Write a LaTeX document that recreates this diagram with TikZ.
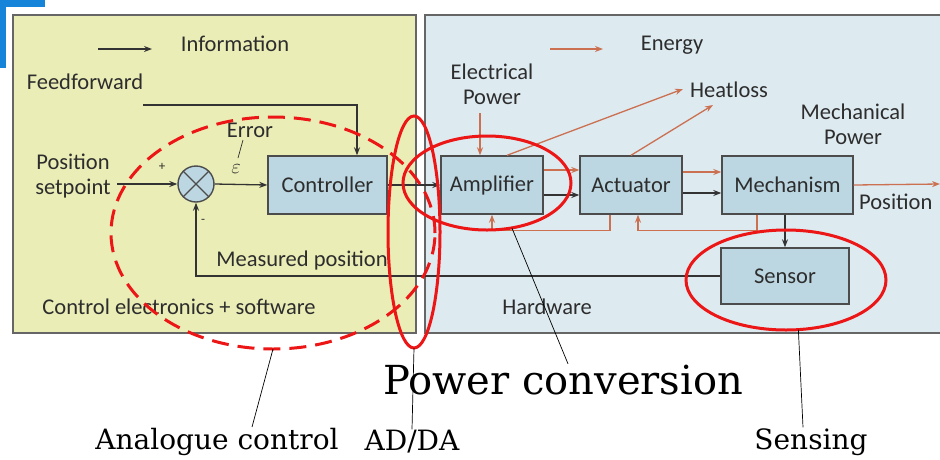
\documentclass[tikz,border=0pt]{standalone}
\usepackage{fontspec}
\setsansfont{Carlito}
\newfontfamily\labelserif{DejaVu Serif}
\usetikzlibrary{arrows.meta,positioning,shapes.geometric}
\definecolor{panelyellow}{RGB}{234,237,182}
\definecolor{panelblue}{RGB}{221,234,240}
\definecolor{boxblue}{RGB}{188,215,226}
\definecolor{energyline}{RGB}{204,112,82}
\definecolor{textgray}{RGB}{45,45,45}
\definecolor{markred}{RGB}{236,22,22}
\definecolor{cornerblue}{RGB}{22,132,216}

\begin{document}
\begin{tikzpicture}[x=1pt,y=-1pt]
\tikzset{
  panel/.style={draw=black!60,line width=1.4pt},
  blocknode/.style={rectangle,draw=black!70,fill=boxblue,line width=1.4pt,minimum height=58pt,inner sep=0pt,font=\sffamily\fontsize{22.5}{25}\selectfont,text=textgray},
  sumnode/.style={circle,draw=black!70,fill=boxblue,line width=1.4pt,minimum size=36pt,inner sep=0pt},
  labelnode/.style={font=\sffamily\fontsize{22.5}{25}\selectfont,text=textgray,align=center,inner sep=1pt},
  signnode/.style={font=\sffamily\fontsize{13}{14}\selectfont,text=textgray,inner sep=0pt},
  infoline/.style={draw=black!80,line width=1.3pt},
  infoarrow/.style={infoline,-{Stealth[length=8pt,width=6pt]}},
  energyline/.style={draw=energyline,line width=1.3pt},
  energyarrow/.style={energyline,-{Stealth[length=8pt,width=6pt]}},
  ring/.style={ellipse,draw=markred,line width=3pt,inner sep=0pt,outer sep=0pt},
  pointer/.style={draw=black,line width=0.7pt},
  bottomlabel/.style={font=\labelserif\fontsize{28}{32}\selectfont,inner sep=1pt}
}
\useasboundingbox (0,0) rectangle (940,459);
\fill[cornerblue] (0,0) rectangle (45,7);
\fill[cornerblue] (0,0) rectangle (6,68);
\draw[panel,fill=panelyellow] (13,15) rectangle (416,333);
\draw[panel,fill=panelblue] (425,15) rectangle (950,333);

\node[labelnode] (n_info) at (235,44) {Information};
\node[labelnode] (n_energy) at (672,45) {Energy};
\coordinate (info_a) at (98,49);
\coordinate (info_b) at (152,49);
\coordinate (energy_a) at (550,49);
\coordinate (energy_b) at (603,49);
\draw[infoarrow] (info_a) -- (info_b);
\draw[energyarrow] (energy_a) -- (energy_b);

\node[labelnode] (n_ff) at (85,82) {Feedforward};
\node[labelnode] (n_setpoint) at (73,176) {Position\\setpoint};
\node[labelnode] (n_error) at (250,130) {Error};
\node[font=\fontsize{20}{22}\selectfont,text=textgray,inner sep=0pt] (n_eps) at (236,169) {$\varepsilon$};
\node[labelnode] (n_measured) at (302,260) {Measured position};
\node[labelnode] (n_ctrl_label) at (179,307) {Control electronics + software};
\node[labelnode] (n_elec) at (492,84) {Electrical\\Power};
\node[labelnode] (n_heat) at (729,90) {Heatloss};
\node[labelnode] (n_mech_power) at (853,124) {Mechanical\\Power};
\node[labelnode,anchor=west] (n_position) at (858,202) {Position};
\node[labelnode] (n_hardware) at (547,307) {Hardware};

\node[sumnode] (n_sum) at (196,184) {};
\draw[line width=1.2pt,draw=black!70] (n_sum.45) -- (n_sum.225) (n_sum.135) -- (n_sum.315);
\node[signnode] (n_plus) at (162,167) {+};
\node[signnode] (n_minus) at (203,221) {-};
\node[blocknode,minimum width=119pt] (n_ctrl) at (327.5,185) {Controller};
\node[blocknode,minimum width=102pt] (n_amp) at (492,185) {Amplifier};
\node[blocknode,minimum width=102pt] (n_act) at (631,185) {Actuator};
\node[blocknode,minimum width=131pt] (n_mech) at (787.5,185) {Mechanism};
\node[blocknode,minimum width=128pt,minimum height=56pt] (n_sensor) at (785,276) {Sensor};

\coordinate (sp_in) at (117,184);
\coordinate (ff_in) at (143,105);
\coordinate (elec_in) at (480,113);
\coordinate (heat_a) at (683,89);
\coordinate (heat_b) at (713,105);
\coordinate (pos_out) at (940,184);

\draw[infoarrow] (sp_in) -- (n_sum.west);
\draw[infoarrow] (n_sum.east) -- (n_ctrl.west);
\draw[infoarrow] (ff_in) -| ([xshift=29.5pt]n_ctrl.north);
\draw[infoarrow] (n_ctrl.east) -- (n_amp.west);
\draw[infoarrow] (n_sensor.west) -| (n_sum.south);
\draw[pointer,draw=textgray] (243,140) -- (238,158);
\draw[infoarrow] ([yshift=-10pt]n_amp.east) -- ([yshift=-10pt]n_act.west);
\draw[infoarrow] ([yshift=-8pt]n_act.east) -- ([yshift=-8pt]n_mech.west);
\draw[infoarrow] ([xshift=-2.5pt]n_mech.south) -- ([xshift=-2.5pt]n_mech.south |- n_sensor.north);

\draw[energyarrow] (elec_in) -- (elec_in |- n_amp.north);
\draw[energyarrow] ([yshift=15pt]n_amp.east) -- ([yshift=15pt]n_act.west);
\draw[energyarrow] ([yshift=13pt]n_act.east) -- ([yshift=13pt]n_mech.west);
\draw[energyarrow] (n_mech.east) -- (pos_out);
\draw[energyarrow] ([xshift=15pt]n_amp.north) -- (heat_a);
\draw[energyarrow] (n_act.north) -- (heat_b);
\draw[energyarrow] ([xshift=-21pt]n_act.south) -- ++(0,16) -| (n_amp.south);
\draw[energyarrow] ([xshift=-30.5pt]n_mech.south) -- ++(0,16) -| ([xshift=7pt]n_act.south);

\node[ring,dashed,dash pattern=on 17pt off 9pt,minimum width=324pt,minimum height=232pt] (ring_analog) at (273,233) {};
\node[ring,minimum width=52pt,minimum height=232pt] (ring_adda) at (414,232) {};
\node[ring,minimum width=168pt,minimum height=94pt] (ring_amp) at (487,183) {};
\node[ring,minimum width=200pt,minimum height=100pt] (ring_sense) at (786,280) {};

\node[bottomlabel] (n_analog) at (217,442) {Analogue control};
\node[bottomlabel] (n_adda) at (412,442) {AD/DA};
\node[bottomlabel] (n_sensing) at (811,442) {Sensing};
\node[font=\labelserif\fontsize{40}{44}\selectfont,inner sep=1pt] (n_power) at (563,380) {Power conversion};

\draw[pointer] (ring_analog.south) -- ([xshift=35pt]n_analog.north);
\draw[pointer] (ring_adda.south) -- (n_adda.north);
\draw[pointer] (ring_amp.-61) -- ([xshift=5pt]n_power.north);
\draw[pointer] (ring_sense.-76) -- ([xshift=-8pt]n_sensing.north);
\end{tikzpicture}
\end{document}
